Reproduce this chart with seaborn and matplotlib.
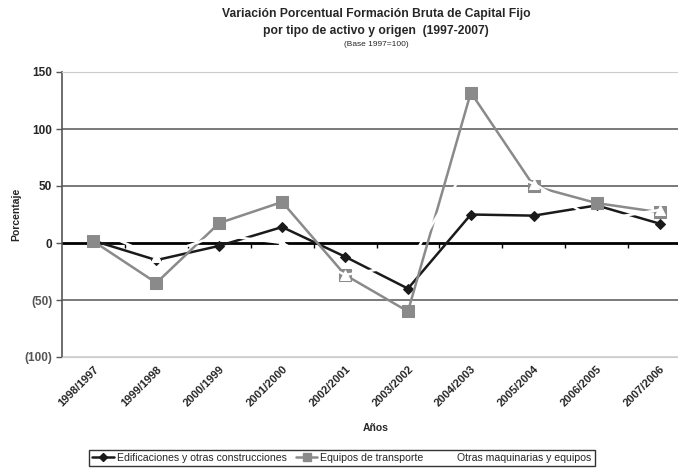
import numpy as np
import matplotlib
matplotlib.use('Agg')
import matplotlib.pyplot as plt
import pandas as pd
import seaborn as sns
from matplotlib.lines import Line2D

anios = ['1998/1997', '1999/1998', '2000/1999', '2001/2000', '2002/2001',
         '2003/2002', '2004/2003', '2005/2004', '2006/2005', '2007/2006']
edificaciones = [2, -15, -2.5, 14, -12, -40, 25, 24, 33, 17]
transporte = [1.5, -35, 17.5, 36, -28, -60, 132, 50, 35, 27]
maquinarias = [12, -12, 7, 0, -28, -19, 73, 52, 20, 29]

yticks = [-100, -50, 0, 50, 100, 150]
ytick_labels = ['(100)', '(50)', '0', '50', '100', '150']

sns.set_style('white')
plt.rcParams['font.family'] = ['Liberation Sans', 'DejaVu Sans']

fig = plt.figure(figsize=(6.78, 4.72), dpi=100)
ax = fig.add_axes([62 / 678, 1 - 357 / 472, 629 / 678, 285 / 472])

# gridlines
for v in yticks:
    if v == 0:
        continue
    col = '#cccccc' if v in (150, -100) else '#555555'
    ax.axhline(v, color=col, lw=1.1, zorder=1)
ax.axhline(0, color='black', lw=2, zorder=2)
ax.vlines(np.arange(len(anios) - 1) + 0.5, -4, 0, color='black', lw=1, zorder=2)

df = pd.DataFrame({'anio': anios, 'edif': edificaciones,
                   'trans': transporte, 'maq': maquinarias})

sns.lineplot(data=df, x='anio', y='edif', color='#1a1a1a', lw=1.8, marker='D',
             markersize=5, markeredgecolor='#1a1a1a', ax=ax, zorder=3, sort=False)
sns.lineplot(data=df, x='anio', y='trans', color='#8a8a8a', lw=1.8, marker='s',
             markersize=8, markeredgecolor='#8a8a8a', ax=ax, zorder=4, sort=False)
sns.lineplot(data=df, x='anio', y='maq', color='white', lw=1.8, marker='^',
             markersize=7, markeredgecolor='white', ax=ax, zorder=5, sort=False)

ax.set_xlim(-0.5, len(anios) - 0.5)
ax.set_ylim(-100, 150)
ax.set_yticks(yticks)
ax.set_yticklabels(ytick_labels, fontsize=8.5, fontweight='bold')
for lab, v in zip(ax.get_yticklabels(), yticks):
    if v < 0:
        lab.set_color('#555555')
ax.set_xticks(range(len(anios)))
ax.set_xticklabels(anios, rotation=45, ha='right', rotation_mode='anchor',
                   fontsize=8, fontweight='bold')
ax.tick_params(axis='x', length=0, pad=5)
ax.tick_params(axis='y', length=4, width=1, color='#555555', direction='out', left=True, pad=3)
ax.set_xlabel('')
ax.set_ylabel('Porcentaje', fontsize=7.5, fontweight='bold', labelpad=2)

ax.spines['left'].set_color('#555555')
ax.spines['left'].set_linewidth(1.2)
ax.spines['top'].set_color('#cccccc')
ax.spines['bottom'].set_color('#cccccc')
ax.spines['right'].set_visible(False)

fig.text(376 / 678, 1 - 14 / 472, 'Variación Porcentual Formación Bruta de Capital Fijo',
         ha='center', va='center', fontsize=8.7, fontweight='bold')
fig.text(376 / 678, 1 - 31 / 472, 'por tipo de activo y origen  (1997-2007)',
         ha='center', va='center', fontsize=8.7, fontweight='bold')
fig.text(376 / 678, 1 - 45 / 472, '(Base 1997=100)', ha='center', va='center', fontsize=6)
fig.text(376 / 678, 1 - 428 / 472, 'Años', ha='center', va='center', fontsize=7.5,
         fontweight='bold')

handles = [
    Line2D([], [], color='#1a1a1a', lw=1.8, marker='D', markersize=4),
    Line2D([], [], color='#8a8a8a', lw=1.8, marker='s', markersize=6),
    Line2D([], [], color='white', lw=1.8, marker='^', markersize=6),
]
labels = ['Edificaciones y otras construcciones', 'Equipos de transporte',
          'Otras maquinarias y equipos']
leg = fig.legend(handles, labels, loc='center', bbox_to_anchor=(342 / 678, 1 - 458 / 472),
                 ncol=3, fontsize=7.6, frameon=True, fancybox=False, handlelength=2.0,
                 handletextpad=0.3, columnspacing=0.9, borderpad=0.3)
leg.get_frame().set_edgecolor('black')
leg.get_frame().set_linewidth(1)

fig.savefig('out.png', dpi=100)
